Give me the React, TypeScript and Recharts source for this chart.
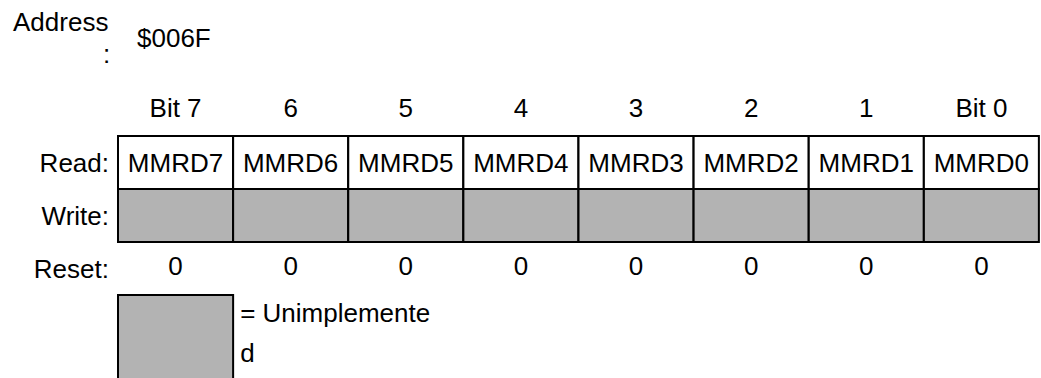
import React from 'react';
import {
  ComposedChart,
  Bar,
  XAxis,
  YAxis,
  LabelList,
  ReferenceArea,
  Label,
  Customized,
} from 'recharts';

// ---- data ----
const bitLabels = ['Bit 7', '6', '5', '4', '3', '2', '1', 'Bit 0'];
const readNames = ['MMRD7', 'MMRD6', 'MMRD5', 'MMRD4', 'MMRD3', 'MMRD2', 'MMRD1', 'MMRD0'];
const resetValues = [0, 0, 0, 0, 0, 0, 0, 0];
const writeRow = [1, 1, 1, 1, 1, 1, 1, 1];
const readRow = [1, 1, 1, 1, 1, 1, 1, 1];
const rowLabels = ['Read:', 'Write:', 'Reset:'];
const rowTicks = [1.5, 0.5, -0.5];
const addressLabel = 'Address';
const addressColon = ':';
const addressValue = '$006F';
const legendLines = ['= Unimplemente', 'd'];
const legendBit = 'Bit 7';
const legendTop = -1;
const legendBottom = -3;

const data = bitLabels.map((bit, i) => ({
  bit,
  name: readNames[i],
  reset: resetValues[i],
  write: writeRow[i],
  read: readRow[i],
}));

const FONT = '"Liberation Sans", Arial, Helvetica, sans-serif';
const FS = 26;
const GRAY = '#b3b3b3';

const rowLabelFor = (v: number) => {
  const idx = rowTicks.indexOf(v);
  return idx >= 0 ? rowLabels[idx] : '';
};

const AddressText = () => (
  <g fontFamily={FONT} fontSize={FS} fill="#000">
    <text x={13} y={31}>{addressLabel}</text>
    <text x={103} y={63}>{addressColon}</text>
    <text x={137} y={47}>{addressValue}</text>
  </g>
);

const LegendLabel = (props: any) => {
  const vb = props.viewBox || {};
  const x = (vb.x || 0) + (vb.width || 0) + 7;
  const y = vb.y || 0;
  return (
    <g fontFamily={FONT} fontSize={FS} fill="#000">
      <text x={x} y={y + 27}>{legendLines[0]}</text>
      <text x={x} y={y + 67}>{legendLines[1]}</text>
    </g>
  );
};

export default function App() {
  return (
    <div style={{ position: 'absolute', left: 0, top: 0, width: 1041, height: 378, background: '#fff' }}>
      <ComposedChart
        width={1041}
        height={378}
        data={data}
        margin={{ top: 106, right: 2, bottom: 83, left: 0 }}
        barCategoryGap={0}
        barGap={0}
        style={{ fontFamily: FONT }}
      >
        <XAxis
          dataKey="bit"
          orientation="top"
          height={30}
          axisLine={false}
          tickLine={false}
          tickSize={0}
          tickMargin={19}
          interval={0}
          tick={{ fill: '#000', fontSize: FS, fontFamily: FONT }}
        />
        <YAxis
          type="number"
          domain={[-1, 2]}
          ticks={rowTicks}
          width={118}
          axisLine={false}
          tickLine={false}
          tickSize={0}
          tickMargin={9}
          interval={0}
          tickFormatter={rowLabelFor}
          tick={{ fill: '#000', fontSize: FS, fontFamily: FONT }}
        />
        <Bar dataKey="write" stackId="reg" fill={GRAY} stroke="#000" strokeWidth={2} isAnimationActive={false}>
          <LabelList
            dataKey="reset"
            position="bottom"
            offset={15}
            fill="#000"
            stroke="none"
            fontSize={FS}
            fontFamily={FONT}
          />
        </Bar>
        <Bar dataKey="read" stackId="reg" fill="#fff" stroke="#000" strokeWidth={2} isAnimationActive={false}>
          <LabelList
            dataKey="name"
            position="center"
            fill="#000"
            stroke="none"
            fontSize={FS}
            fontFamily={FONT}
          />
        </Bar>
        <ReferenceArea
          x1={legendBit}
          x2={legendBit}
          y1={legendBottom}
          y2={legendTop}
          ifOverflow="visible"
          fill={GRAY}
          fillOpacity={1}
          stroke="#000"
          strokeWidth={2}
        >
          <Label content={LegendLabel} />
        </ReferenceArea>
        <Customized component={AddressText} />
      </ComposedChart>
    </div>
  );
}
